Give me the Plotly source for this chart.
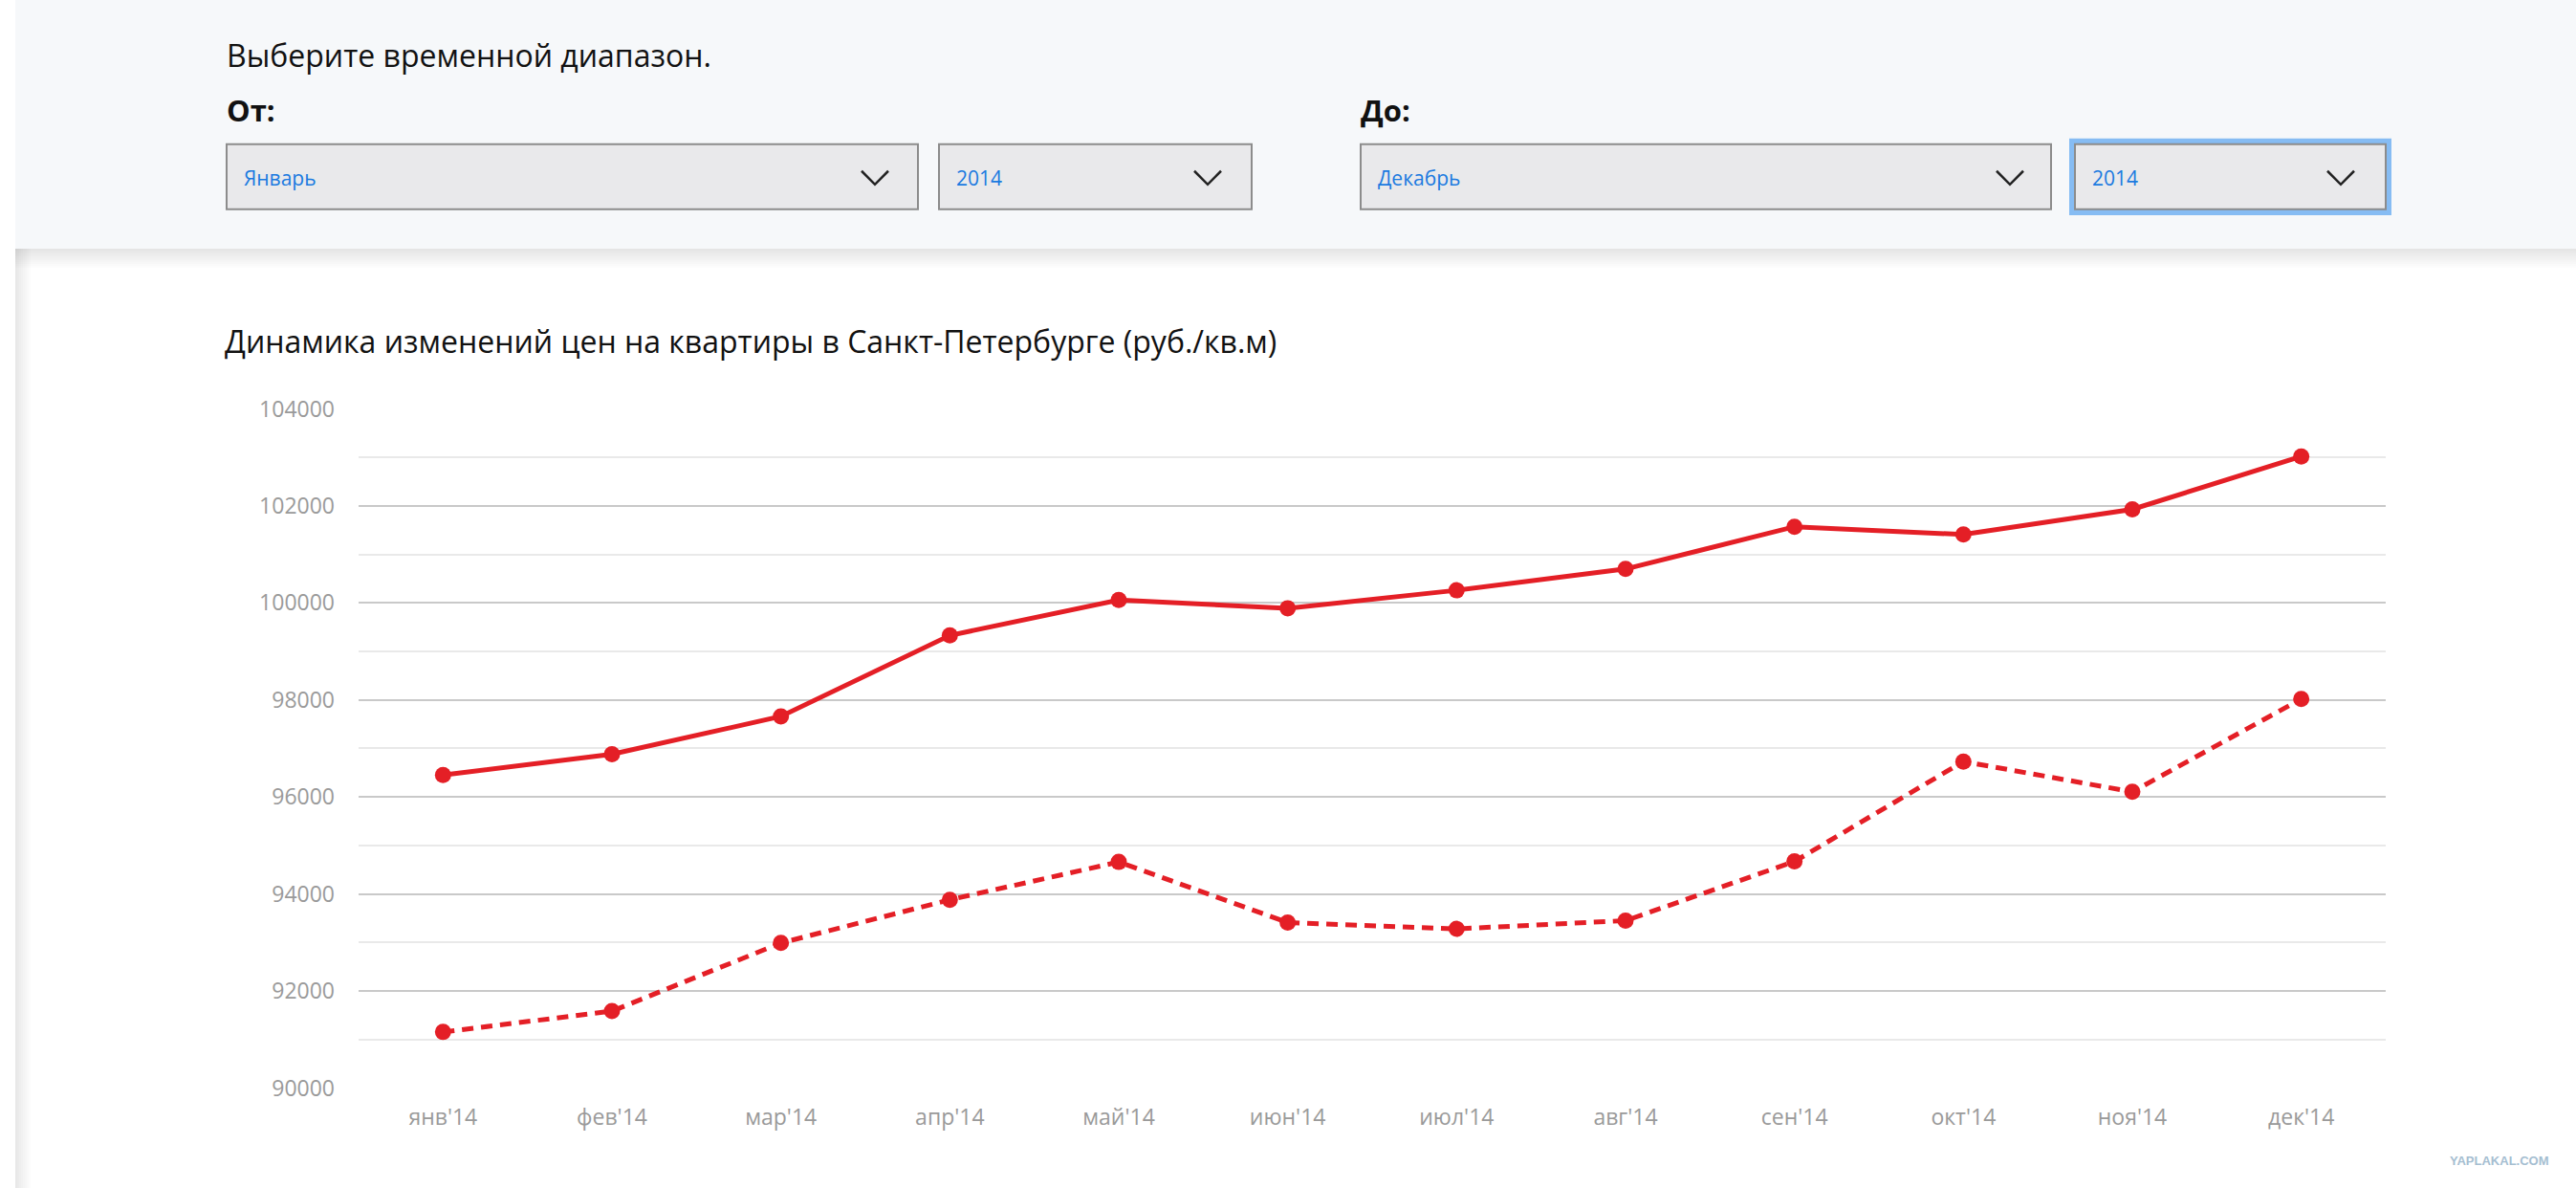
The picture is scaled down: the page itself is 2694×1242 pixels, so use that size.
import plotly.graph_objects as go

W, H = 2694, 1242

# data
months = ["янв'14", "фев'14", "мар'14", "апр'14", "май'14", "июн'14",
          "июл'14", "авг'14", "сен'14", "окт'14", "ноя'14", "дек'14"]
price_solid = [96450, 96880, 97660, 99330, 100060, 99890,
               100260, 100700, 101570, 101410, 101930, 103020]
price_dashed = [91155, 91585, 92990, 93880, 94660, 93410,
                93280, 93450, 94670, 96730, 96105, 98020]
y_ticks = [90000, 92000, 94000, 96000, 98000, 100000, 102000, 104000]

RED = "#e41f26"
FONT = "Open Sans"


def px(x):
    return x / W


def py(y):
    # the screenshot comes back slightly squeezed vertically; compensate
    y = (y - 18.7) / 0.9715
    return 1 - y / H


fig = go.Figure()
fig.add_trace(go.Scatter(
    x=months, y=price_solid, mode="lines+markers",
    line=dict(color=RED, width=5), marker=dict(color=RED, size=17),
    showlegend=False, hoverinfo="x+y"))
fig.add_trace(go.Scatter(
    x=months, y=price_dashed, mode="lines+markers",
    line=dict(color=RED, width=5, dash="12px,8px"), marker=dict(color=RED, size=17),
    showlegend=False, hoverinfo="x+y"))

shapes = []
# top filter panel + shadow
shapes.append(dict(type="rect", xref="paper", yref="paper", layer="below",
                   x0=px(16), x1=1, y0=py(261), y1=1.05,
                   fillcolor="#f6f8fa", line=dict(width=0)))
for i in range(10):
    a = 0.10 * (1 - i / 10)
    shapes.append(dict(type="rect", xref="paper", yref="paper", layer="below",
                       x0=px(16), x1=1, y0=py(263 + 2 * i), y1=py(261 + 2 * i),
                       fillcolor=f"rgba(0,0,0,{a:.3f})", line=dict(width=0)))
for i in range(8):
    a = 0.09 * (1 - i / 8)
    shapes.append(dict(type="rect", xref="paper", yref="paper", layer="below",
                       x0=px(16 + 2 * i), x1=px(18 + 2 * i), y0=-0.05, y1=py(261),
                       fillcolor=f"rgba(0,0,0,{a:.3f})", line=dict(width=0)))

# dropdowns: (left, right, chevron x, text)
boxes = [(237, 960, 915, "Январь"), (982, 1309, 1263, "2014"),
         (1423, 2145, 2102, "Декабрь"), (2170, 2495, 2448, "2014")]
# focus outline on the last one
shapes.append(dict(type="rect", xref="paper", yref="paper",
                   x0=px(2164), x1=px(2501), y0=py(226), y1=py(146),
                   fillcolor="#86bcf3", line=dict(width=0)))
annotations = []
for x0, x1, cx, label in boxes:
    shapes.append(dict(type="rect", xref="paper", yref="paper",
                       x0=px(x0), x1=px(x1), y0=py(220), y1=py(152),
                       fillcolor="#e9e9eb", line=dict(color="#8c8c8c", width=2)))
    shapes.append(dict(type="path", xref="paper", yref="paper",
                       path=f"M {px(cx - 14)},{py(180)} L {px(cx)},{py(194)} L {px(cx + 14)},{py(180)}",
                       line=dict(color="#222222", width=2.5)))
    annotations.append(dict(x=px(x0 + 16), y=py(187), xref="paper", yref="paper",
                            text=label, showarrow=False, xanchor="left", yanchor="middle",
                            font=dict(family=FONT, size=21, color="#1a7ae0")))

annotations += [
    dict(x=px(235), y=py(59), text="Выберите временной диапазон.",
         font=dict(family=FONT, size=32, color="#111111")),
    dict(x=px(235), y=py(116), text="<b>От:</b>",
         font=dict(family=FONT, size=31, color="#111111")),
    dict(x=px(1421), y=py(116), text="<b>До:</b>",
         font=dict(family=FONT, size=31, color="#111111")),
    dict(x=px(233), y=py(357), text="Динамика изменений цен на квартиры в Санкт-Петербурге (руб./кв.м)",
         font=dict(family=FONT, size=32, color="#111111")),
    dict(x=px(2668), y=py(1212), text="<b>YAPLAKAL.COM</b>", xanchor="right",
         font=dict(family="Liberation Sans Narrow, Liberation Sans", size=13, color="#a5bed1")),
]
for a in annotations:
    a.setdefault("xref", "paper")
    a.setdefault("yref", "paper")
    a.setdefault("showarrow", False)
    a.setdefault("xanchor", "left")
    a.setdefault("yanchor", "middle")

fig.update_layout(
    width=W, height=H, autosize=False,
    margin=dict(l=0, r=0, t=0, b=0),
    paper_bgcolor="white", plot_bgcolor="white",
    font=dict(family=FONT),
    shapes=shapes, annotations=annotations,
    xaxis=dict(domain=[px(375), px(2495)], range=[-0.5, 11.5], type="category",
               showgrid=False, zeroline=False, showline=False, ticks="",
               tickfont=dict(family=FONT, size=23, color="#9a9a9a"), ticklabelstandoff=15),
    yaxis=dict(domain=[py(1136), py(428)], range=[90000, 104000],
               tickvals=y_ticks, ticktext=[str(v) for v in y_ticks],
               showgrid=True, gridcolor="#c9c9c9", gridwidth=2,
               minor=dict(dtick=1000, tick0=91000, showgrid=True, gridcolor="#e9e9e9", gridwidth=2),
               zeroline=False, showline=False, ticks="",
               tickfont=dict(family=FONT, size=23, color="#9a9a9a"), ticklabelstandoff=24),
)

# pin the figure to the top-left corner and keep the page exactly one screen tall
post = ("var gd=document.getElementById('{plot_id}');"
        "document.documentElement.style.margin='0';document.documentElement.style.overflow='hidden';"
        "document.body.style.margin='0';document.body.style.overflow='hidden';"
        "document.body.style.height='100vh';"
        "gd.style.position='fixed';gd.style.top='0';gd.style.left='0';")
fig.write_html("out.html", config={"displayModeBar": False}, post_script=post)
